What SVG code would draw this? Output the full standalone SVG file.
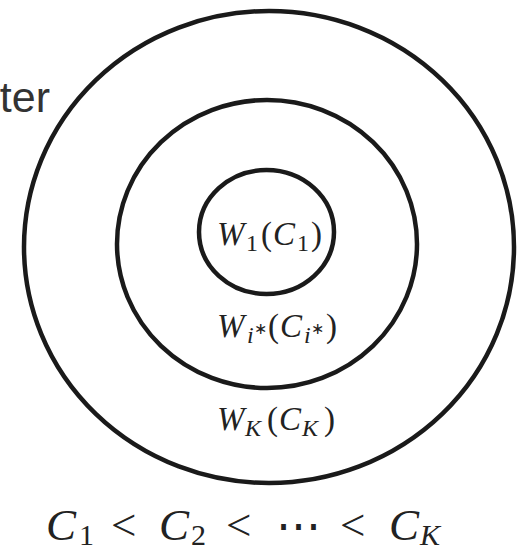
<svg xmlns="http://www.w3.org/2000/svg" width="529" height="551" viewBox="0 0 529 551">
<style>
.ring{fill:none;stroke:#1a1a1a;stroke-width:4.5}
.m{font-family:"Liberation Serif","Times New Roman",serif;fill:#222}
.it{font-style:italic}
.lbl{font-size:33px}
.sub{font-size:24px}
.sup{font-size:16px}
.big{font-size:45px}
.bsub{font-size:30px}
.sans{font-family:"Liberation Sans",Arial,sans-serif;fill:#333}
</style>
<rect width="529" height="551" fill="#fff"/>
<g id="outer-label"><text class="sans" x="50" y="112" font-size="43" text-anchor="end">ter</text></g>
<g id="ring-K">
<ellipse class="ring" cx="269" cy="247" rx="245" ry="236"/>
<text class="m lbl"><tspan class="it" x="217" y="430">W</tspan><tspan class="it sub" x="245" y="436">K</tspan><tspan x="267" y="430">(</tspan><tspan class="it" x="279" y="430">C</tspan><tspan class="it sub" x="302" y="436">K</tspan><tspan x="324" y="430">)</tspan></text>
</g>
<g id="ring-istar">
<ellipse class="ring" cx="267" cy="244" rx="150" ry="144"/>
<text class="m lbl"><tspan class="it" x="217" y="337">W</tspan><tspan class="it sub" x="247" y="343">i</tspan><tspan class="sup" x="254" y="334">∗</tspan><tspan x="268" y="337">(</tspan><tspan class="it" x="280" y="337">C</tspan><tspan class="it sub" x="304" y="343">i</tspan><tspan class="sup" x="311" y="334">∗</tspan><tspan x="326" y="337">)</tspan></text>
</g>
<g id="ring-1">
<ellipse class="ring" cx="266.5" cy="232" rx="67.5" ry="62"/>
<text class="m lbl"><tspan class="it" x="217" y="245">W</tspan><tspan class="sub" x="246" y="251">1</tspan><tspan x="261" y="245">(</tspan><tspan class="it" x="273" y="245">C</tspan><tspan class="sub" x="297" y="251">1</tspan><tspan x="311" y="245">)</tspan></text>
</g>
<g id="order">
<text class="m big"><tspan class="it" x="46" y="540">C</tspan><tspan class="bsub" x="79" y="545">1</tspan><tspan x="111" y="540">&lt;</tspan><tspan class="it" x="159" y="540">C</tspan><tspan class="bsub" x="191" y="545">2</tspan><tspan x="226" y="540">&lt;</tspan><tspan x="276" y="540">⋯</tspan><tspan x="340" y="540">&lt;</tspan><tspan class="it" x="389" y="540">C</tspan><tspan class="it bsub" x="420" y="545">K</tspan></text>
</g>
<g id="connectors"></g>
</svg>
